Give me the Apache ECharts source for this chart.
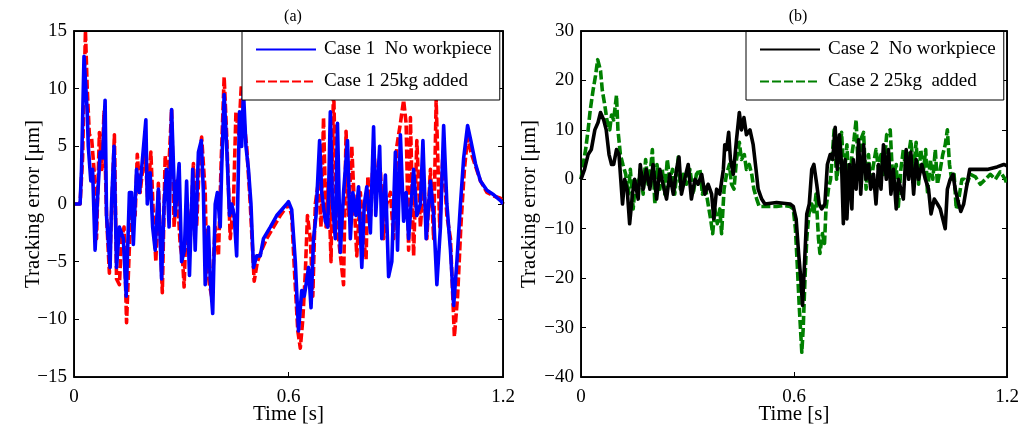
<!DOCTYPE html>
<html>
<head>
<meta charset="utf-8">
<script src="https://cdn.jsdelivr.net/npm/echarts@6/dist/echarts.min.js"></script>
<style>
html,body{margin:0;padding:0;background:#fff;}
#chart{width:1030px;height:432px;}
</style>
</head>
<body>
<div id="chart"></div>
<script>
// ---- Data (time [s], tracking error [um]) ----
const case1NoWorkpiece = [[0,0],[0.017,0],[0.021,3],[0.028,12.8],[0.037,8],[0.040,5],[0.047,2],[0.052,3],[0.059,-4],[0.065,0],[0.073,4.5],[0.080,4],[0.087,9],[0.091,-1],[0.101,-5.5],[0.105,0],[0.112,5],[0.119,-5.5],[0.127,-2],[0.138,-3],[0.146,-8],[0.155,1],[0.161,1],[0.166,-3.5],[0.175,3],[0.183,1],[0.189,3],[0.201,7.3],[0.205,0],[0.213,2.7],[0.220,-2],[0.227,-4],[0.236,1.3],[0.245,-6.5],[0.252,0],[0.259,3],[0.266,-2],[0.273,8.2],[0.283,-1],[0.294,3.5],[0.301,-5],[0.309,-4],[0.315,2],[0.323,-6.2],[0.332,3],[0.339,-4],[0.348,4.5],[0.356,5.5],[0.362,1],[0.367,-7],[0.376,-2],[0.381,-6.5],[0.388,-9.5],[0.395,0],[0.401,1],[0.409,-2],[0.413,3],[0.420,9.5],[0.427,5],[0.435,-1],[0.441,0],[0.448,-1],[0.455,-4.5],[0.463,8],[0.469,5],[0.474,9.8],[0.481,5],[0.488,3],[0.495,0],[0.502,-5.5],[0.511,-4.5],[0.521,-4.5],[0.530,-3],[0.549,-2],[0.567,-1],[0.595,0],[0.600,0.2],[0.609,-0.5],[0.619,-5],[0.628,-11],[0.637,-7.5],[0.644,-8],[0.649,-7],[0.656,-5.5],[0.663,-9],[0.670,-3],[0.677,-1],[0.687,5.5],[0.693,1],[0.703,-1.5],[0.710,-2],[0.717,8],[0.723,0],[0.731,-3],[0.737,7],[0.745,-4.2],[0.754,1],[0.765,5.5],[0.773,-3],[0.780,1],[0.789,-1],[0.796,1.5],[0.805,-5.5],[0.812,0],[0.819,1.5],[0.829,-2.5],[0.838,6.7],[0.844,-1],[0.855,5],[0.861,-3],[0.871,2.5],[0.880,-6.3],[0.889,-5],[0.899,4.5],[0.905,-4],[0.913,6],[0.922,-1.5],[0.929,1],[0.936,-3],[0.950,3],[0.959,-1],[0.969,0],[0.976,5.5],[0.985,-3],[0.997,2],[1.006,-1],[1.015,-7],[1.025,-2],[1.034,6.8],[1.043,0],[1.053,-4],[1.062,-8.8],[1.071,-5],[1.081,0],[1.090,4],[1.101,6.8],[1.110,5.5],[1.123,3.5],[1.137,2],[1.155,1.2],[1.174,0.8],[1.193,0.3],[1.2,0]];

const case1Added = [[0,0],[0.017,0],[0.024,4],[0.032,15],[0.037,10],[0.043,6],[0.049,5.8],[0.056,3],[0.063,-3],[0.071,6.2],[0.078,3],[0.084,8],[0.091,-1],[0.099,-6],[0.106,0],[0.113,6],[0.119,-6.5],[0.127,-7],[0.133,-3],[0.140,-2],[0.147,-10.3],[0.157,-2],[0.164,0],[0.171,-1],[0.177,4.3],[0.185,1],[0.192,3],[0.199,4.5],[0.206,0.5],[0.215,4.5],[0.222,-1],[0.229,-5],[0.236,1.8],[0.247,-7.7],[0.255,4.2],[0.262,1],[0.273,8.2],[0.280,-2],[0.287,2],[0.297,-3.5],[0.304,-5],[0.308,-7.2],[0.315,0],[0.325,-3],[0.334,3.5],[0.343,-2],[0.351,4],[0.357,5.8],[0.367,1],[0.371,-5],[0.379,-7],[0.385,-8],[0.395,-2],[0.404,-4.5],[0.412,4],[0.420,11],[0.427,6],[0.437,-3],[0.446,0],[0.453,8],[0.461,6],[0.468,10.3],[0.476,7],[0.483,5],[0.493,0],[0.504,-6.7],[0.513,-5],[0.525,-4],[0.539,-3],[0.558,-2],[0.577,-1],[0.600,0],[0.609,-1],[0.617,-6],[0.626,-11],[0.633,-12.5],[0.640,-10],[0.647,-6],[0.653,-1],[0.661,-3],[0.668,-8],[0.675,0],[0.684,2],[0.691,-2],[0.698,7.5],[0.705,-2],[0.712,2],[0.719,-5],[0.726,10.5],[0.733,0],[0.740,-3],[0.747,-5],[0.754,-7],[0.761,6.3],[0.768,-1],[0.777,5],[0.784,0],[0.791,-4.5],[0.801,1],[0.810,-3],[0.817,-4.8],[0.822,2.4],[0.830,-1],[0.838,5],[0.847,1],[0.857,3],[0.866,-3],[0.875,0],[0.885,1],[0.894,-3],[0.903,5],[0.913,7],[0.922,9],[0.929,7],[0.936,-4],[0.941,7.5],[0.950,-4.5],[0.959,5.5],[0.969,-2],[0.978,2],[0.987,-3],[0.997,3],[1.006,-3],[1.013,9],[1.023,-2],[1.032,4.5],[1.043,-1],[1.053,-3],[1.064,-11.5],[1.073,-8],[1.082,-2],[1.092,3],[1.101,5.8],[1.110,4.5],[1.123,3.3],[1.137,2],[1.155,1],[1.174,0.7],[1.193,0.5],[1.2,0]];

const case2NoWorkpiece = [[0,0],[0.010,2],[0.020,5],[0.029,6],[0.039,10],[0.048,11.5],[0.055,13.5],[0.064,12],[0.071,10],[0.079,5],[0.086,3],[0.092,3],[0.100,6],[0.107,5],[0.112,0],[0.117,-5],[0.123,0],[0.130,-2],[0.137,-9],[0.145,-3],[0.151,0],[0.161,-4],[0.167,3],[0.175,-2],[0.184,2],[0.194,-2],[0.203,3],[0.213,-4],[0.222,2],[0.231,-1],[0.241,-4],[0.250,1],[0.260,-3],[0.269,2],[0.276,4.5],[0.283,-3],[0.292,0],[0.302,3],[0.311,-4],[0.321,0],[0.330,-1],[0.340,1],[0.349,-3],[0.358,-1],[0.368,-3],[0.374,-8],[0.382,-2],[0.391,-3],[0.401,2],[0.405,7],[0.410,6],[0.416,9.5],[0.421,4],[0.429,1],[0.438,8],[0.446,13.5],[0.452,10],[0.459,12.5],[0.466,9],[0.476,10],[0.485,7],[0.493,2],[0.499,-2],[0.509,-4],[0.518,-5],[0.551,-4.7],[0.589,-5],[0.598,-5.5],[0.606,-8],[0.613,-15],[0.619,-20],[0.624,-25.5],[0.629,-18],[0.636,-7],[0.643,-5],[0.650,2],[0.656,3],[0.664,-1],[0.671,-5],[0.678,-6],[0.687,-5],[0.694,3],[0.702,5],[0.709,4],[0.716,10.5],[0.722,2],[0.728,9],[0.734,3],[0.739,-9],[0.744,4],[0.749,-8],[0.756,3],[0.763,-6],[0.767,4],[0.775,-2],[0.782,8],[0.788,-3],[0.796,7],[0.803,0],[0.810,3],[0.816,-2],[0.824,1],[0.831,-5],[0.838,3],[0.845,-2],[0.852,7],[0.860,0],[0.866,6],[0.873,-3],[0.880,2],[0.888,-6],[0.894,0],[0.901,-2],[0.908,-4],[0.916,6],[0.923,0],[0.929,5.5],[0.937,-3],[0.944,4],[0.951,0],[0.960,3],[0.970,0],[0.979,-2],[0.986,-7],[0.995,-4],[1.004,-5],[1.012,-6],[1.019,-8],[1.026,-10],[1.032,-2],[1.040,0],[1.048,1],[1.054,-2],[1.064,-5],[1.070,-6.5],[1.078,-5],[1.085,-2],[1.095,2],[1.115,2],[1.144,2],[1.172,2.5],[1.191,3],[1.2,2.7]];

const case2Added = [[0,0],[0.006,3],[0.013,6],[0.020,10],[0.026,14],[0.034,18],[0.041,21],[0.047,24.2],[0.055,22],[0.060,18],[0.067,15],[0.073,12],[0.081,10],[0.086,13],[0.092,12],[0.100,17],[0.104,10],[0.111,5],[0.118,3],[0.126,1],[0.133,-3],[0.139,2],[0.147,-6],[0.154,0],[0.161,-2],[0.167,2],[0.175,-3],[0.182,4],[0.189,-1],[0.196,2],[0.201,6],[0.208,-5],[0.214,3],[0.222,-2],[0.229,2],[0.236,-3],[0.243,4],[0.250,0],[0.258,2],[0.264,-3],[0.274,4.5],[0.280,-2],[0.288,1],[0.297,-1],[0.307,2],[0.316,-3],[0.325,1],[0.335,2],[0.342,-3],[0.349,-1],[0.358,-5],[0.365,-8],[0.371,-11],[0.377,-6],[0.384,-9],[0.391,-6],[0.396,-11],[0.403,-2],[0.410,1],[0.418,3],[0.424,-1],[0.431,-2],[0.438,4],[0.446,7.5],[0.452,4],[0.460,5],[0.466,2],[0.474,3],[0.481,1],[0.487,-2],[0.495,-4],[0.502,-5.5],[0.513,-5.5],[0.532,-5.5],[0.551,-5.5],[0.570,-5.3],[0.589,-5.5],[0.598,-6],[0.604,-10],[0.609,-17],[0.615,-26],[0.622,-35],[0.626,-30],[0.631,-20],[0.636,-12],[0.642,-7],[0.650,-5],[0.656,-7],[0.662,-3],[0.669,-12],[0.673,-15],[0.680,-11],[0.686,-13],[0.690,-6],[0.697,-2],[0.703,0],[0.709,6],[0.713,10],[0.720,0],[0.728,4],[0.734,9.5],[0.741,0],[0.749,7],[0.756,-3],[0.763,5],[0.769,8],[0.775,12],[0.782,0],[0.788,8],[0.796,9.5],[0.803,-2],[0.810,5],[0.816,-1],[0.824,3],[0.831,6],[0.838,2],[0.845,5],[0.852,1],[0.861,9],[0.871,10],[0.878,0],[0.888,3],[0.894,-5.5],[0.901,2],[0.908,6],[0.916,1],[0.923,5],[0.929,8],[0.937,2],[0.944,7.5],[0.951,-1],[0.957,6],[0.965,2],[0.971,6],[0.976,-3],[0.984,4],[0.991,0],[0.998,6],[1.004,-1],[1.012,2],[1.019,5],[1.026,7],[1.032,10],[1.038,3],[1.044,0],[1.051,1],[1.057,-6],[1.064,-4],[1.073,0],[1.080,0],[1.087,-1],[1.097,1],[1.111,0.5],[1.125,-1],[1.139,0],[1.153,1],[1.167,0],[1.181,1.5],[1.195,0],[1.2,-1]];

const panelTitles = ['(a)', '(b)'];
const seriesNames = ['Case 1  No workpiece', 'Case 1 25kg added', 'Case 2  No workpiece', 'Case 2 25kg  added'];
const xTicks = [0, 0.6, 1.2];
const yTicksA = [-15, -10, -5, 0, 5, 10, 15];
const yTicksB = [-40, -30, -20, -10, 0, 10, 20, 30];

// ---- Chart ----
const FONT = '"Liberation Serif", "Times New Roman", serif';
const chart = echarts.init(document.getElementById('chart'), null, {renderer: 'canvas'});
const fmt = v => String(Math.round(v * 10) / 10).replace('-', '\u2212');

function xAxisFor(gi, pos) {
  const main = pos === 'bottom';
  return {
    type: 'value', gridIndex: gi, position: pos,
    min: xTicks[0], max: xTicks[xTicks.length - 1], interval: xTicks[1] - xTicks[0],
    name: main ? 'Time [s]' : '', nameLocation: 'middle', nameGap: 27, nameMoveOverlap: false,
    nameTextStyle: {fontFamily: FONT, fontSize: 21, color: '#000'},
    axisLine: {show: true, onZero: false, lineStyle: {color: '#000', width: 1.5}},
    axisTick: {show: true, inside: true, length: 5, lineStyle: {color: '#000'}},
    axisLabel: {show: main, fontFamily: FONT, fontSize: 19, color: '#000', margin: 11, formatter: fmt},
    splitLine: {show: false}
  };
}
function yAxisFor(gi, pos, ticks, gap) {
  const main = pos === 'left';
  return {
    type: 'value', gridIndex: gi, position: pos,
    min: ticks[0], max: ticks[ticks.length - 1], interval: ticks[1] - ticks[0],
    name: main ? 'Tracking error [\u03bcm]' : '', nameLocation: 'middle', nameGap: gap, nameMoveOverlap: false,
    nameTextStyle: {fontFamily: FONT, fontSize: 21, color: '#000'},
    axisLine: {show: true, onZero: false, lineStyle: {color: '#000', width: 1.5}},
    axisTick: {show: true, inside: true, length: 5, lineStyle: {color: '#000'}},
    axisLabel: {show: main, fontFamily: FONT, fontSize: 19, color: '#000', margin: 7, formatter: fmt},
    splitLine: {show: false}
  };
}
function lineSeries(name, data, xi, yi, color, dashed, z) {
  return {
    name, type: 'line', data, xAxisIndex: xi, yAxisIndex: yi,
    showSymbol: false, symbol: 'none', z, animation: false,
    lineStyle: {color, width: 3.6, type: dashed ? [9, 3] : 'solid', join: 'round'},
    itemStyle: {color}
  };
}
function legendFor(left, names) {
  return {
    left, top: 31, orient: 'vertical', data: names,
    backgroundColor: '#fff', borderColor: '#000', borderWidth: 1, borderRadius: 0,
    padding: [9, 8, 9, 13], itemGap: 13, itemWidth: 60, itemHeight: 12,
    itemStyle: {opacity: 0},
    textStyle: {fontFamily: FONT, fontSize: 19, color: '#000', padding: [0, 0, 0, 3]},
    selectedMode: false, z: 10
  };
}

const option = {
  backgroundColor: '#fff',
  animation: false,
  title: [
    {text: panelTitles[0], left: 288, top: 4, textAlign: 'center', textStyle: {fontFamily: FONT, fontSize: 16, fontWeight: 'normal', color: '#000'}},
    {text: panelTitles[1], left: 793, top: 4, textAlign: 'center', textStyle: {fontFamily: FONT, fontSize: 16, fontWeight: 'normal', color: '#000'}}
  ],
  grid: [
    {left: 74, top: 31, width: 429, height: 346, containLabel: false, show: true, borderColor: '#000', borderWidth: 1.5},
    {left: 581, top: 31, width: 426, height: 346, containLabel: false, show: true, borderColor: '#000', borderWidth: 1.5}
  ],
  xAxis: [xAxisFor(0, 'bottom'), xAxisFor(0, 'top'), xAxisFor(1, 'bottom'), xAxisFor(1, 'top')],
  yAxis: [yAxisFor(0, 'left', yTicksA, 30), yAxisFor(0, 'right', yTicksA, 0), yAxisFor(1, 'left', yTicksB, 41), yAxisFor(1, 'right', yTicksB, 0)],
  legend: [legendFor(242, [seriesNames[0], seriesNames[1]]), legendFor(746, [seriesNames[2], seriesNames[3]])],
  series: [
    lineSeries(seriesNames[1], case1Added, 0, 0, '#ff0000', true, 2),
    lineSeries(seriesNames[0], case1NoWorkpiece, 0, 0, '#0000ff', false, 3),
    lineSeries(seriesNames[3], case2Added, 2, 2, '#008000', true, 2),
    lineSeries(seriesNames[2], case2NoWorkpiece, 2, 2, '#000000', false, 3)
  ]
};
chart.setOption(option);

// Plot-area frames, derived from the axes' own scales
function frameFor(xi, yi, yTicks) {
  const p0 = chart.convertToPixel({xAxisIndex: xi, yAxisIndex: yi}, [xTicks[0], yTicks[yTicks.length - 1]]);
  const p1 = chart.convertToPixel({xAxisIndex: xi, yAxisIndex: yi}, [xTicks[xTicks.length - 1], yTicks[0]]);
  return {
    type: 'rect', silent: true, z: 50,
    shape: {x: Math.round(p0[0]) + 0.5, y: Math.round(p0[1]) + 0.5, width: Math.round(p1[0] - p0[0]), height: Math.round(p1[1] - p0[1])},
    style: {fill: 'none', stroke: '#000', lineWidth: 1}
  };
}
chart.setOption({graphic: [frameFor(0, 0, yTicksA), frameFor(2, 2, yTicksB)]});
</script>
</body>
</html>
